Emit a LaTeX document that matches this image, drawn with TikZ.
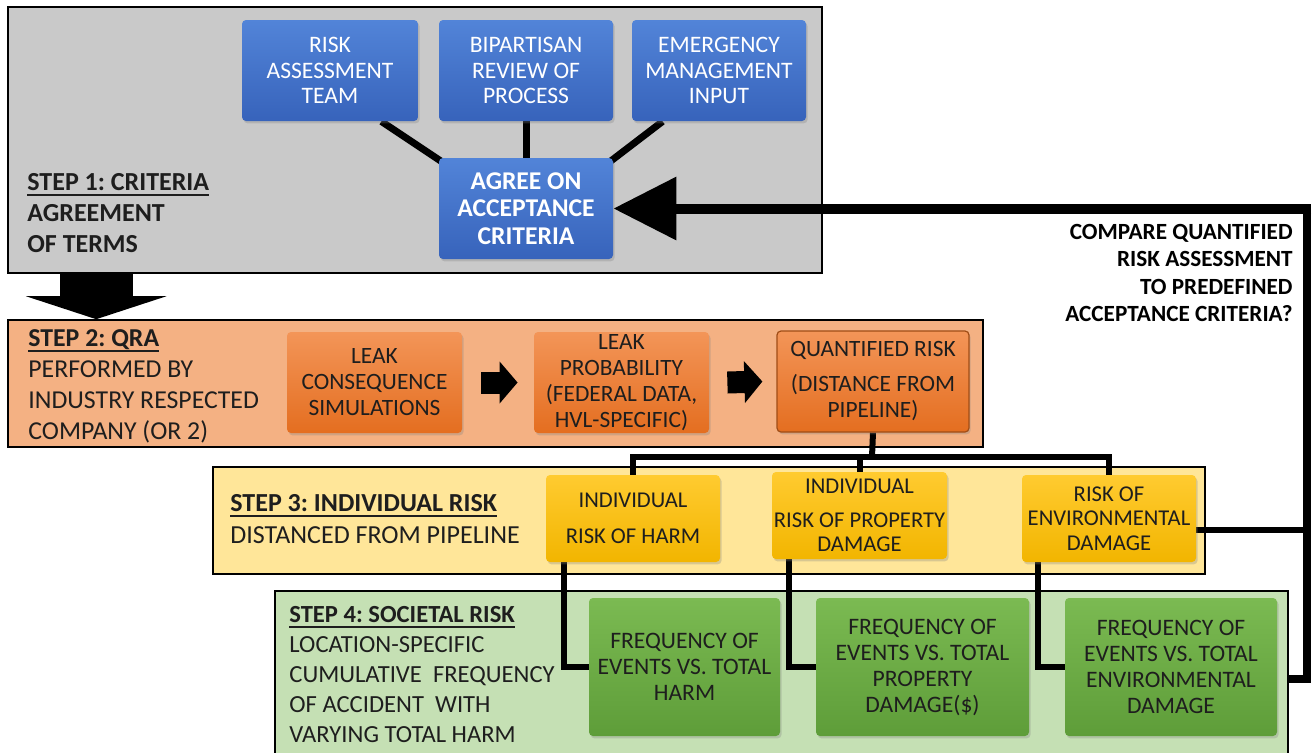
\documentclass[tikz,border=0pt]{standalone}
\usepackage{fontspec}
\setmainfont{Carlito}
\frenchspacing
\usetikzlibrary{arrows.meta,fit,shadows,calc}
\pgfdeclarelayer{backdrop}
\pgfdeclarelayer{panels}
\pgfdeclarelayer{lines}
\pgfsetlayers{backdrop,panels,lines,main}
\definecolor{panelgray}{HTML}{C9C9C9}
\definecolor{blueT}{HTML}{5284D8}
\definecolor{blueB}{HTML}{3763BB}
\definecolor{salmon}{HTML}{F4B183}
\definecolor{orangeT}{HTML}{F39558}
\definecolor{orangeB}{HTML}{E46E20}
\definecolor{lightyellow}{HTML}{FFE699}
\definecolor{goldT}{HTML}{FFCB30}
\definecolor{goldB}{HTML}{F2B500}
\definecolor{lightgreen}{HTML}{C5E0B4}
\definecolor{greenT}{HTML}{7BBA52}
\definecolor{greenB}{HTML}{5E9D39}
\definecolor{txt}{HTML}{1E1E1E}
\newsavebox\ulbox
\newcommand{\myul}[1]{\sbox\ulbox{#1}\rlap{\rule[-2.6pt]{\wd\ulbox}{1pt}}\usebox\ulbox}
\tikzset{
  panel/.style={draw=black, line width=0.8pt, inner sep=0pt},
  sz/.style 2 args={minimum width=#1*0.5pt, minimum height=#2*0.5pt},
  box/.style={rounded corners=2pt, inner sep=0pt, align=center, text=txt,
    drop shadow={shadow xshift=0.8pt, shadow yshift=-1.2pt, opacity=0.3}},
  bluebox/.style={box, top color=blueT, bottom color=blueB, text=white,
    font=\fontsize{11.8pt}{12.75pt}\selectfont},
  orangebox/.style={box, top color=orangeT, bottom color=orangeB,
    font=\fontsize{11.7pt}{13pt}\selectfont},
  goldbox/.style={box, top color=goldT, bottom color=goldB,
    font=\fontsize{11.3pt}{12.25pt}\selectfont},
  greenbox/.style={box, top color=greenT, bottom color=greenB,
    font=\fontsize{11.8pt}{13pt}\selectfont},
  ptext/.style={anchor=north west, inner sep=0pt, align=left, text=txt},
  conn/.style={line width=3pt, black},
  blockarrow/.style={line width=11pt, black, -{Triangle[length=9pt,width=20.5pt]}},
}
\begin{document}
\begin{tikzpicture}[x=0.5pt, y=-0.5pt]
\useasboundingbox (0,0) rectangle (1314,752);
\begin{pgfonlayer}{backdrop}
\fill[white] (0,0) rectangle (1314,752);
\end{pgfonlayer}

% panels
\begin{pgfonlayer}{panels}
\node[panel, fill=panelgray, fit={(8,7) (822,273)}] (p1) {};
\node[panel, fill=salmon, fit={(8,320) (983,447)}] (p2) {};
\node[panel, fill=lightyellow, fit={(213,467) (1205,574)}] (p3) {};
\node[panel, fill=lightgreen, fit={(275,591) (1288,767)}] (p4) {};
\end{pgfonlayer}

% panel texts
\node[ptext, font=\bfseries\fontsize{13pt}{15.5pt}\selectfont] (t1) at (27,173)
  {\myul{STEP 1: CRITERIA}\\AGREEMENT\\OF TERMS};
\node[ptext, font=\fontsize{12.9pt}{15.6pt}\selectfont] (t2) at (28,329)
  {\myul{\textbf{STEP 2: QRA}}\\PERFORMED BY\\INDUSTRY RESPECTED\\COMPANY (OR 2)};
\node[ptext, font=\fontsize{13pt}{16pt}\selectfont] (t3) at (230,494)
  {\myul{\textbf{STEP 3: INDIVIDUAL RISK}}\\DISTANCED FROM PIPELINE};
\node[ptext, font=\fontsize{12.3pt}{15pt}\selectfont] (t4) at (289,606)
  {\myul{\textbf{STEP 4: SOCIETAL RISK}}\\LOCATION-SPECIFIC\\CUMULATIVE\ \ FREQUENCY\\OF ACCIDENT\ \ WITH\\VARYING TOTAL HARM};

% step 1 boxes
\node[bluebox, sz={176}{101}] (b1) at (330,70.5) {RISK\\ASSESSMENT\\TEAM};
\node[bluebox, sz={174}{101}] (b2) at (526,70.5) {BIPARTISAN\\REVIEW OF\\PROCESS};
\node[bluebox, sz={174}{101}] (b3) at (719,70.5) {EMERGENCY\\MANAGEMENT\\INPUT};
\node[bluebox, sz={174}{101}, font=\bfseries\fontsize{12.8pt}{13.75pt}\selectfont] (agree) at (526,208.5)
  {AGREE ON\\ACCEPTANCE\\CRITERIA};

% step 2 boxes
\node[orangebox, sz={175}{101}] (qA) at (374.5,382.5) {LEAK\\CONSEQUENCE\\SIMULATIONS};
\node[orangebox, sz={175}{101}] (qB) at (621.5,382.5) {LEAK\\PROBABILITY\\(FEDERAL DATA,\\HVL-SPECIFIC)};
\node[orangebox, draw=orangeB!70!black, line width=0.6pt, sz={192}{101}] (qC) at (873,381.5)
  {QUANTIFIED RISK\\[4.5pt](DISTANCE FROM\\PIPELINE)};

% step 3 boxes
\node[goldbox, sz={174}{87}] (y1) at (633,518.5) {INDIVIDUAL\\[5.75pt]RISK OF HARM};
\node[goldbox, sz={175}{87}] (y2) at (859.5,515.5) {INDIVIDUAL\\[4.75pt]RISK OF PROPERTY\\DAMAGE};
\node[goldbox, sz={174}{87}] (y3) at (1109,518.5) {RISK OF\\ENVIRONMENTAL\\DAMAGE};

% step 4 boxes
\node[greenbox, sz={191}{138}] (g1) at (684.5,667) {FREQUENCY OF\\EVENTS VS. TOTAL\\HARM};
\node[greenbox, sz={213}{138}] (g2) at (922.5,667) {FREQUENCY OF\\EVENTS VS. TOTAL\\PROPERTY\\DAMAGE(\$)};
\node[greenbox, sz={212}{138}] (g3) at (1171,667) {FREQUENCY OF\\EVENTS VS. TOTAL\\ENVIRONMENTAL\\DAMAGE};

% question text
\node[anchor=north east, align=right, inner sep=0pt, text=black,
  font=\bfseries\fontsize{11.6pt}{13.65pt}\selectfont] (cmp) at (1293,224)
  {COMPARE QUANTIFIED\\RISK ASSESSMENT\\TO PREDEFINED\\ACCEPTANCE CRITERIA?};

\coordinate (rb) at (1307,679);
\coordinate (rt) at (1307,208.5);
\coordinate (bus) at (872,457);
\coordinate (y3out) at ($(y3.east)+(0,11)$);

\begin{pgfonlayer}{lines}
% step 1 connectors
\draw[line width=3.5pt] ($(b1.south east)+(-37,0)$) -- ($(agree.north west)+(6,6)$);
\draw[line width=3.5pt] (b2.south) -- (agree.north);
\draw[line width=3.5pt] ($(b3.south west)+(31,0)$) -- ($(agree.north east)+(-6,6)$);
% step 1 -> step 2
\draw[line width=36.5pt, -{Triangle[length=11.5pt,width=70pt]}]
  ($(p1.south west)+(89,0)$) -- ($(p2.north west)+(89,0)$);
% step 2 flow
\draw[blockarrow] ($(qA.east)+(19,0)$) -- ($(qB.west)+(-16,0)$);
\draw[blockarrow] ($(qB.east)+(18,0)$) -- ($(qC.west)+(-14,0)$);
% step 2 -> step 3
\draw[conn] (qC.south) -- (bus);
\draw[conn, line join=miter] (y1.north) |- (bus) -| (y3.north);
\draw[conn] (y2.north) -- (y2.north |- bus);
% step 3 -> step 4
\draw[conn, line join=miter] ($(y1.south west)+(18,0)$) |- (g1.west);
\draw[conn, line join=miter] ($(y2.south west)+(17,0)$) |- (g2.west);
\draw[conn, line join=miter] ($(y3.south west)+(16,0)$) |- (g3.west);
% feedback
\draw[line width=4pt, line join=miter] (p4.east) -- (rb) -- (rt);
\draw[conn] (y3out) -- (y3out -| rt);
\draw[line width=5pt, -{Triangle[length=31.5pt,width=30.5pt]}] ($(rt)+(4,0)$) -- (agree.east);
\end{pgfonlayer}
\end{tikzpicture}
\end{document}
